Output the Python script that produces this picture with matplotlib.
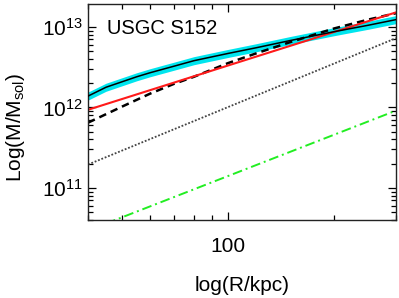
import numpy as np
import matplotlib
matplotlib.use("Agg")
import matplotlib.pyplot as plt
from matplotlib.ticker import NullFormatter, FuncFormatter

plt.rcParams['font.family'] = ['Liberation Sans', 'DejaVu Sans']
plt.rcParams['mathtext.fontset'] = 'custom'
plt.rcParams['mathtext.rm'] = 'Liberation Sans'
plt.rcParams['mathtext.it'] = 'Liberation Sans:italic'
plt.rcParams['mathtext.bf'] = 'Liberation Sans:bold'

# Data (log10 of mass in solar masses vs radius in kpc)
R_obs = [40, 45, 55, 60, 70, 80, 100, 120, 150, 200, 250, 300]
logM_obs = [12.14, 12.25, 12.38, 12.43, 12.51, 12.58, 12.67, 12.74, 12.83, 12.94, 13.02, 13.09]
band_err = 0.05

R_dash = [40, 50, 60, 70, 80, 100, 120, 150, 200, 250, 300]
logM_dash = [11.81, 12.01, 12.17, 12.29, 12.38, 12.55, 12.67, 12.81, 12.98, 13.09, 13.17]

R_red = [40, 300]
logM_red = [11.97, 13.18]

R_dot = [40, 300]
logM_dot = [11.29, 12.86]

R_green = [40, 300]
logM_green = [10.47, 11.96]

label = "USGC S152"

fig = plt.figure(figsize=(3.99, 2.98), dpi=100)
ax = fig.add_axes([0.2206, 0.262, 0.772, 0.725])

M_obs = 10 ** np.array(logM_obs)
ax.fill_between(R_obs, 10 ** (np.array(logM_obs) - band_err), 10 ** (np.array(logM_obs) + band_err),
                color='#00e5ee', lw=0, zorder=1)
ax.plot(R_obs, M_obs, color='black', lw=1.1, zorder=3)
ax.plot(R_dash, 10 ** np.array(logM_dash), color='black', lw=1.8, ls=(0, (3, 2)), zorder=2)
ax.plot(R_red, 10 ** np.array(logM_red), color='#ff1a1a', lw=1.5, zorder=2)
ax.plot(R_dot, 10 ** np.array(logM_dot), color='#444444', lw=1.3, ls=(0, (1, 1)), zorder=2)
ax.plot(R_green, 10 ** np.array(logM_green), color='#22ee22', lw=1.4, ls=(0, (5, 2, 1, 2)), zorder=2)

ax.set_xscale('log')
ax.set_yscale('log')
ax.set_xlim(40, 300)
ax.set_ylim(4e10, 1.93e13)

ax.xaxis.set_major_formatter(FuncFormatter(lambda v, p: f"{v:g}"))
ax.xaxis.set_minor_formatter(NullFormatter())
ax.yaxis.set_minor_formatter(NullFormatter())
ax.tick_params(which='both', direction='in', top=True, right=True, labelsize=15, width=0.9)
ax.tick_params(axis='x', pad=12)
ax.tick_params(which='major', length=6)
ax.tick_params(which='minor', length=3.5)
for s in ax.spines.values():
    s.set_linewidth(1.0)
    s.set_color('#222222')

ax.text(0.06, 0.93, label, transform=ax.transAxes, fontsize=14.5, va='top', ha='left')

ax.set_xlabel('log(R/kpc)', fontsize=15)
ax.set_ylabel(r'Log(M/M$_{\rm sol}$)', fontsize=15)
ax.yaxis.set_label_coords(-0.198, 0.43)
ax.xaxis.set_label_coords(0.5, -0.26)

fig.savefig('out.png', dpi=100)
